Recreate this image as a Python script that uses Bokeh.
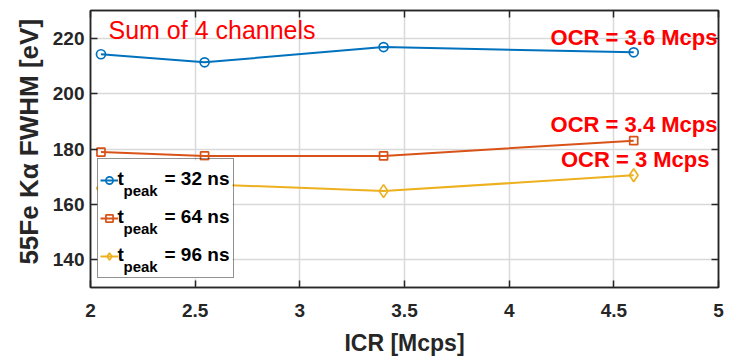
from bokeh.plotting import figure
from bokeh.models import (Range1d, LinearAxis, FixedTicker, Legend, LegendItem, Label,
                          BoxAnnotation)
from bokeh.embed import file_html
from bokeh.resources import INLINE

# ---- data ----
icr = [2.05, 2.545, 3.40, 4.595]
fwhm_32 = [214.2, 211.3, 216.8, 214.9]
fwhm_64 = [178.9, 177.5, 177.5, 183.0]
fwhm_96 = [165.8, 167.3, 164.8, 170.5]
tpeak_values = ["32", "64", "96"]
x_ticks = [2, 2.5, 3, 3.5, 4, 4.5, 5]
x_tick_labels = ["2", "2.5", "3", "3.5", "4", "4.5", "5"]
y_ticks = [140, 160, 180, 200, 220]
y_tick_labels = ["140", "160", "180", "200", "220"]
ocr_labels = ["OCR = 3.6 Mcps", "OCR = 3.4 Mcps", "OCR = 3 Mcps"]
title_text = "Sum of 4 channels"
x_label = "ICR [Mcps]"
y_label = "\u00a0\u00a055Fe K\u03b1 FWHM [eV]"

FONT = "Liberation Sans"
AX = "#262626"
colors = ["#0072BD", "#D95319", "#EDB120"]
markers = ["circle", "square", "diamond"]
msizes = [9, 8, 13]

p = figure(width=729, height=358, output_backend="svg", toolbar_location=None,
           x_range=Range1d(2, 5), y_range=Range1d(130, 230),
           min_border_left=90, min_border_right=11, min_border_top=10,
           min_border_bottom=71, background_fill_color="white",
           border_fill_color="white")
p.outline_line_color = AX
p.outline_line_width = 1.5

def style_axis(ax, ticks, labels=None, show=True):
    ax.ticker = FixedTicker(ticks=ticks)
    ax.major_tick_in = 7
    ax.major_tick_out = 0
    ax.minor_tick_line_color = None
    ax.major_tick_line_color = AX
    ax.major_tick_line_width = 1.5
    ax.axis_line_color = AX
    ax.axis_line_width = 1.5
    if show:
        ax.major_label_overrides = dict(zip(ticks, labels))
        ax.major_label_text_font = FONT
        ax.major_label_text_font_style = "bold"
        ax.major_label_text_font_size = "19px"
        ax.major_label_text_color = AX
        ax.axis_label_text_font = FONT
        ax.axis_label_text_font_style = "bold"
        ax.axis_label_text_color = AX
    else:
        ax.major_label_text_font_size = "0px"
        ax.major_label_standoff = 0

xa = p.xaxis[0]
ya = p.yaxis[0]
style_axis(xa, x_ticks, x_tick_labels)
style_axis(ya, y_ticks, y_tick_labels)
xa.axis_label = x_label
xa.axis_label_text_font_size = "23px"
xa.major_label_standoff = 16
xa.axis_label_standoff = 10
ya.axis_label = y_label
ya.axis_label_text_font_size = "26px"
ya.major_label_standoff = 6
ya.axis_label_standoff = 6

ra = LinearAxis()
style_axis(ra, y_ticks, show=False)
p.add_layout(ra, "right")
ta = LinearAxis()
style_axis(ta, x_ticks, show=False)
p.add_layout(ta, "above")

p.xgrid.ticker = FixedTicker(ticks=x_ticks)
p.ygrid.ticker = FixedTicker(ticks=y_ticks)
for g in (p.xgrid[0], p.ygrid[0]):
    g.grid_line_color = "#d9d9d9"
    g.grid_line_width = 1.5

items = []
for vals, c, m, s in zip([fwhm_32, fwhm_64, fwhm_96], colors, markers, msizes):
    lr = p.line(icr, vals, line_color=c, line_width=2)
    sr = p.scatter(icr, vals, marker=m, size=s, fill_color=None, line_color=c, line_width=1.7)
    items.append(LegendItem(label=" ", renderers=[lr, sr]))

# white legend background (under the texts), legend itself is transparent on top
p.add_layout(BoxAnnotation(left=7, right=142, bottom=9, top=127,
                           left_units="screen", right_units="screen",
                           bottom_units="screen", top_units="screen",
                           fill_color="white", fill_alpha=1.0, line_color=None,
                           level="annotation"))

leg = Legend(items=items, location=(7, 9), padding=2, spacing=0, margin=0,
             glyph_width=18, glyph_height=38, label_height=38, label_width=113,
             label_standoff=0, border_line_color=AX, border_line_width=1.5,
             background_fill_alpha=0.0, label_text_font_size="19px")
p.add_layout(leg, "center")

# legend texts (screen units relative to frame bottom-left)
base = [109.5, 71.5, 33.5]
for b, tv in zip(base, tpeak_values):
    p.add_layout(Label(x=27, y=b, x_units="screen", y_units="screen", text="t",
                       text_font=FONT, text_font_style="bold", text_font_size="19px",
                       text_color="black", text_baseline="alphabetic", level="overlay"))
    p.add_layout(Label(x=33, y=b - 12.5, x_units="screen", y_units="screen", text="peak",
                       text_font=FONT, text_font_style="bold", text_font_size="15px",
                       text_color="black", text_baseline="alphabetic", level="overlay"))
    p.add_layout(Label(x=74, y=b, x_units="screen", y_units="screen", text="= " + tv + " ns",
                       text_font=FONT, text_font_style="bold", text_font_size="19px",
                       text_color="black", text_baseline="alphabetic", level="overlay"))

p.add_layout(Label(x=18, y=258, x_units="screen", y_units="screen", text=title_text,
                   text_font=FONT, text_font_size="25px", text_color="red",
                   text_baseline="alphabetic", level="overlay"))
for (xx, yy), t in zip([(627, 250), (627, 163), (619, 128)], ocr_labels):
    p.add_layout(Label(x=xx, y=yy, x_units="screen", y_units="screen", text=t,
                       text_font=FONT, text_font_style="bold", text_font_size="22px",
                       text_color="red", text_align="right", text_baseline="alphabetic",
                       level="overlay"))

open("out.html", "w").write(file_html(p, INLINE))
